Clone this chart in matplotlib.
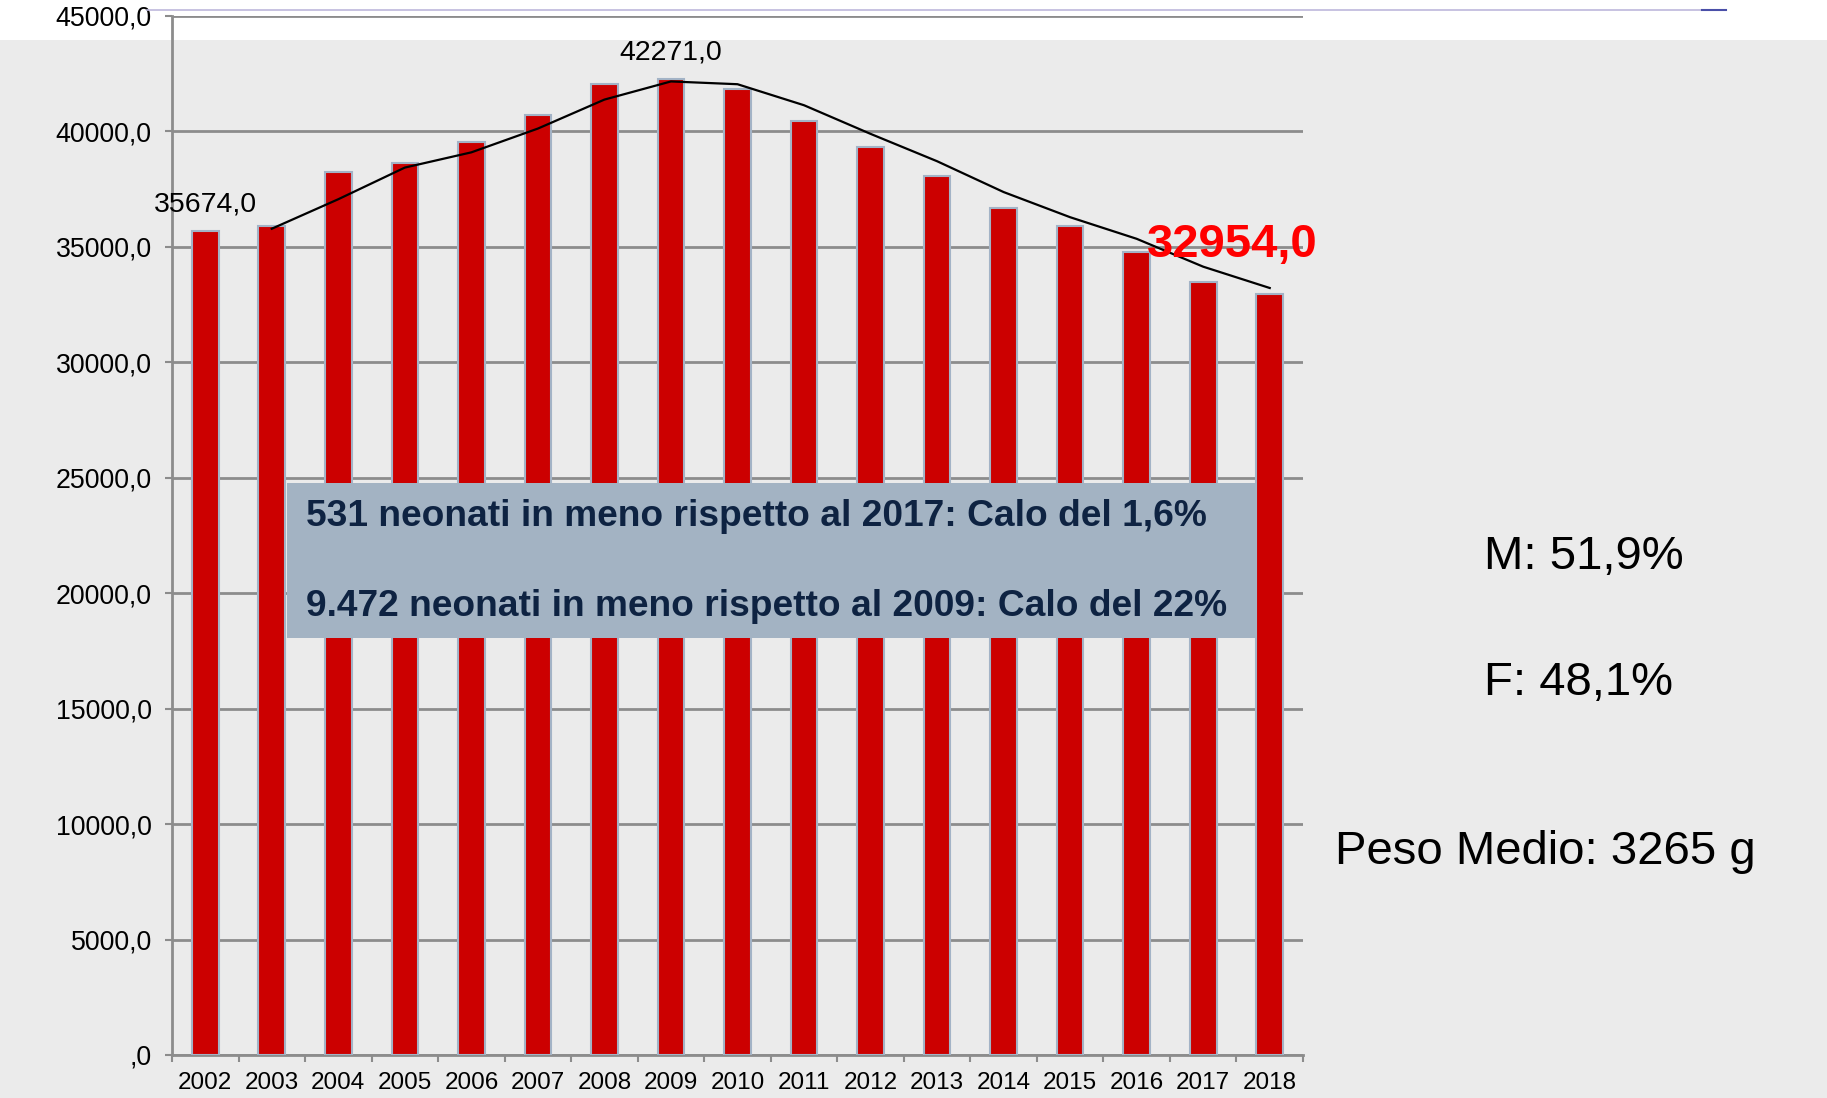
import pandas as pd
import matplotlib.pyplot as plt
import matplotlib.patches as mpatches
import numpy as np

# ===================== DATI =====================
anni = ["2002", "2003", "2004", "2005", "2006", "2007", "2008", "2009", "2010",
        "2011", "2012", "2013", "2014", "2015", "2016", "2017", "2018"]
nati = [35674, 35900, 38230, 38640, 39550, 40700, 42060, 42271, 41820,
        40450, 39340, 38080, 36670, 35900, 34800, 33485, 32954]

etichette_anni = {"2002": "35674,0", "2009": "42271,0"}
etichetta_finale = "32954,0"

testo_box = ["531 neonati in meno rispetto al 2017: Calo del 1,6%",
             "9.472 neonati in meno rispetto al 2009: Calo del 22%"]
testo_destra = ["M: 51,9%", "F: 48,1%", "Peso Medio: 3265 g"]
# =================================================

plt.rcParams["font.family"] = ["Liberation Sans", "DejaVu Sans"]

W, H = 1827, 1098
fig = plt.figure(figsize=(W / 100, H / 100), dpi=100)
fig.patch.set_facecolor("#EBEBEB")

# banda bianca in alto (residuo della slide)
fig.add_artist(mpatches.Rectangle((0, 1 - 40 / H), 1, 40 / H, transform=fig.transFigure,
                                  facecolor="white", edgecolor="none", zorder=0))
fig.add_artist(plt.Line2D([147 / W, 1726 / W], [1 - 10 / H, 1 - 10 / H], transform=fig.transFigure,
                          color="#BDB8DC", lw=1.2, zorder=1))
fig.add_artist(plt.Line2D([1702 / W, 1726 / W], [1 - 10 / H, 1 - 10 / H], transform=fig.transFigure,
                          color="#4A4FA8", lw=1.5, zorder=2))

ax = fig.add_axes([172 / W, 1 - 1055 / H, (1303 - 172) / W, (1055 - 16) / H])
ax.patch.set_alpha(0)

x = np.arange(len(anni))
ax.bar(x, nati, width=0.40, color="#CC0000", edgecolor="#A3B3C6", linewidth=1.5, zorder=3)

# media mobile a 2 periodi
media = pd.Series(nati).rolling(2).mean()
ax.plot(x, media, color="black", lw=1.6, zorder=4)

ax.set_xlim(-0.5, len(anni) - 0.5)
ax.set_ylim(0, 45000)
ax.set_yticks(np.arange(0, 45001, 5000))
ax.set_yticklabels([",0"] + [f"{v},0" for v in range(5000, 45001, 5000)], fontsize=19.3)
ax.yaxis.grid(True, color="#8C8C8C", lw=2, zorder=0)
ax.tick_params(axis="y", length=5, width=1.5, color="#8C8C8C", pad=9.5)

ax.set_xticks(x)
ax.set_xticklabels(anni, fontsize=17.5)
ax.set_xticks(np.arange(-0.5, len(anni)), minor=True)
ax.tick_params(axis="x", which="major", length=0, pad=12)
ax.tick_params(axis="x", which="minor", length=5, width=1.5, color="#8C8C8C")

for s in ["top", "right"]:
    ax.spines[s].set_visible(False)
for s in ["left", "bottom"]:
    ax.spines[s].set_color("#8C8C8C")
    ax.spines[s].set_linewidth(2)

for anno, txt in etichette_anni.items():
    i = anni.index(anno)
    ax.annotate(txt, (x[i], nati[i]), xytext=(0, 27), textcoords="offset pixels",
                ha="center", va="center", fontsize=20.5, zorder=5)

ax.annotate(etichetta_finale, (x[-1], nati[-1]), xytext=(-37, 49), textcoords="offset pixels",
            ha="center", va="center", fontsize=34, fontweight="bold", color="#FF0000", zorder=5)

# riquadro con il commento
fig.add_artist(mpatches.Rectangle((287 / W, 1 - 638 / H), 969 / W, 155 / H, transform=fig.transFigure,
                                  facecolor="#A3B3C3", edgecolor="none", zorder=6))
for testo, yy in zip(testo_box, [516, 607]):
    fig.text(306 / W, 1 - yy / H, testo, ha="left", va="center", fontsize=26.7,
             fontweight="bold", color="#0E2342", zorder=7)

for testo, xx, yy in zip(testo_destra, [1484, 1484, 1335], [557, 683, 852]):
    fig.text(xx / W, 1 - yy / H, testo, ha="left", va="center", fontsize=34, color="black")

fig.savefig("out.png", dpi=100, facecolor=fig.get_facecolor())
